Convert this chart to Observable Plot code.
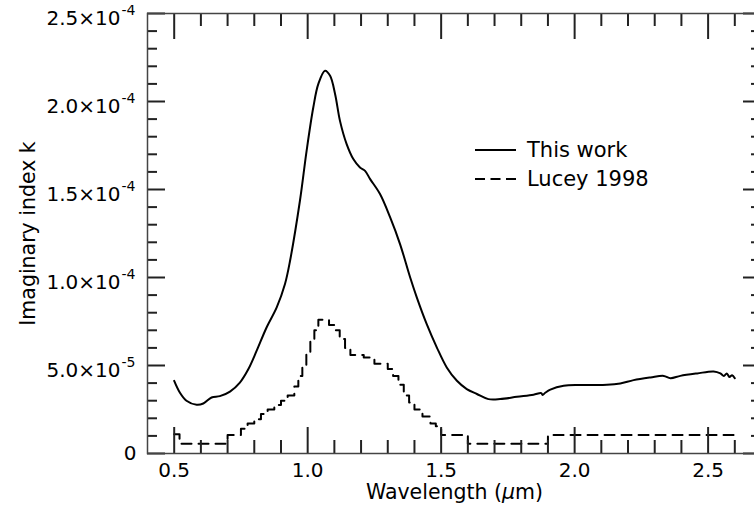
<!DOCTYPE html>
<html>
<head>
<meta charset="utf-8">
<script src="https://cdn.jsdelivr.net/npm/d3@7"></script>
<script src="https://cdn.jsdelivr.net/npm/@observablehq/plot@0.6"></script>
<style>
html, body { margin: 0; padding: 0; background: #fff; overflow: hidden; width: 754px; height: 508px; }
#wrap { position: relative; width: 754px; height: 508px; overflow: hidden; font-family: "DejaVu Sans", sans-serif; }
#chart svg { max-width: none !important; width: 770px !important; height: 508px !important; display: block; }
#legend { position: absolute; left: 475px; top: 135px; font-size: 21px; color: #000; }
#legend .row { display: flex; align-items: center; height: 29px; }
#legend svg { display: block; margin-right: 11px; }
</style>
</head>
<body>
<div id="wrap">
  <div id="chart"></div>
  <div id="legend">
    <div class="row"><svg width="41" height="4"><line x1="0" y1="2" x2="41" y2="2" stroke="#000" stroke-width="2"/></svg><span>This work</span></div>
    <div class="row"><svg width="41" height="4"><line x1="0" y1="2" x2="41" y2="2" stroke="#000" stroke-width="2" stroke-dasharray="10,5.5"/></svg><span>Lucey 1998</span></div>
  </div>
</div>
<script>
// "This work" spectrum: wavelength (µm) and imaginary index k
const workW = [0.500, 0.521, 0.546, 0.584, 0.609, 0.640, 0.671, 0.709, 0.746, 0.778, 0.809, 0.846, 0.884, 0.915, 0.934, 0.971, 0.996, 1.021, 1.040, 1.065, 1.084, 1.103, 1.121, 1.146, 1.171, 1.196, 1.215, 1.234, 1.271, 1.309, 1.346, 1.384, 1.409, 1.446, 1.484, 1.521, 1.559, 1.596, 1.634, 1.677, 1.721, 1.784, 1.846, 1.875, 1.880, 1.890, 1.909, 1.959, 2.021, 2.121, 2.171, 2.221, 2.284, 2.334, 2.359, 2.396, 2.459, 2.521, 2.546, 2.559, 2.570, 2.580, 2.590, 2.600];
const workK = [4.13e-5, 3.47e-5, 3.00e-5, 2.77e-5, 2.84e-5, 3.18e-5, 3.26e-5, 3.52e-5, 4.03e-5, 4.80e-5, 5.84e-5, 7.16e-5, 8.30e-5, 9.63e-5, 1.095e-4, 1.436e-4, 1.72e-4, 1.966e-4, 2.10e-4, 2.175e-4, 2.146e-4, 2.04e-4, 1.89e-4, 1.758e-4, 1.673e-4, 1.625e-4, 1.606e-4, 1.559e-4, 1.474e-4, 1.341e-4, 1.19e-4, 1.0e-4, 8.86e-5, 7.35e-5, 6.02e-5, 4.89e-5, 4.13e-5, 3.66e-5, 3.38e-5, 3.09e-5, 3.09e-5, 3.22e-5, 3.34e-5, 3.43e-5, 3.33e-5, 3.45e-5, 3.63e-5, 3.85e-5, 3.89e-5, 3.90e-5, 3.98e-5, 4.17e-5, 4.32e-5, 4.41e-5, 4.28e-5, 4.41e-5, 4.55e-5, 4.66e-5, 4.55e-5, 4.41e-5, 4.55e-5, 4.35e-5, 4.45e-5, 4.28e-5];

// Lucey 1998 (step values)
const lucW = [0.50, 0.52, 0.70, 0.75, 0.775, 0.80, 0.825, 0.85, 0.875, 0.90, 0.925, 0.95, 0.965, 0.98, 0.995, 1.01, 1.025, 1.04, 1.08, 1.10, 1.12, 1.14, 1.16, 1.21, 1.25, 1.30, 1.32, 1.34, 1.36, 1.38, 1.40, 1.43, 1.46, 1.48, 1.50, 1.60, 1.90, 2.60];
const lucK = [1.1e-5, 5.5e-6, 1.05e-5, 1.4e-5, 1.7e-5, 1.95e-5, 2.25e-5, 2.5e-5, 2.75e-5, 3.0e-5, 3.3e-5, 3.8e-5, 4.4e-5, 5.0e-5, 5.7e-5, 6.4e-5, 7.0e-5, 7.6e-5, 7.3e-5, 7.0e-5, 6.5e-5, 6.0e-5, 5.6e-5, 5.45e-5, 5.1e-5, 4.8e-5, 4.4e-5, 3.9e-5, 3.3e-5, 2.9e-5, 2.5e-5, 2.1e-5, 1.7e-5, 1.55e-5, 1.05e-5, 5.5e-6, 1.05e-5, 1.05e-5];

// Ticks and tick labels
const xMajor = [0.5, 1.0, 1.5, 2.0, 2.5];
const xMajorLabels = ["0.5", "1.0", "1.5", "2.0", "2.5"];
const xMinor = [0.6, 0.7, 0.8, 0.9, 1.1, 1.2, 1.3, 1.4, 1.6, 1.7, 1.8, 1.9, 2.1, 2.2, 2.3, 2.4, 2.6];
const yMajor = [0, 5e-5, 1e-4, 1.5e-4, 2e-4, 2.5e-4];
const yMantissa = ["5.0×10", "1.0×10", "1.5×10", "2.0×10", "2.5×10"];
const yExponent = ["-5", "-4", "-4", "-4", "-4"];
const yMinor = [1e-5, 2e-5, 3e-5, 4e-5, 6e-5, 7e-5, 8e-5, 9e-5, 1.1e-4, 1.2e-4, 1.3e-4, 1.4e-4, 1.6e-4, 1.7e-4, 1.8e-4, 1.9e-4, 2.1e-4, 2.2e-4, 2.3e-4, 2.4e-4];

const work = workW.map((w, i) => ({w, k: workK[i]}));
const lucey = lucW.map((w, i) => ({w, k: lucK[i]}));
const yLab = yMajor.slice(1).map((v, i) => ({v, m: yMantissa[i], e: yExponent[i]}));
const xLab = xMajor.map((v, i) => ({v, t: xMajorLabels[i]}));

const W = 770, H = 508, mL = 147, mR = 9, mT = 13, mB = 55;
const fw = W - mL - mR, fh = H - mT - mB;
const axisColor = "#222";
const tk = {stroke: axisColor, strokeWidth: 2};
const id = d => d;

const chart = Plot.plot({
  width: W, height: H,
  marginLeft: mL, marginRight: mR, marginTop: mT, marginBottom: mB,
  x: {domain: [0.4, 2.7], axis: null},
  y: {domain: [0, 2.5e-4], axis: null},
  style: {fontFamily: "DejaVu Sans", fontSize: "20px", background: "white", color: "#000"},
  marks: [
    Plot.line(lucey, {x: "w", y: "k", curve: "step-after", stroke: "#000", strokeWidth: 2, strokeDasharray: "10,7"}),
    Plot.line(work, {x: "w", y: "k", curve: "catmull-rom", stroke: "#000", strokeWidth: 2}),
    // tick labels
    Plot.text(xLab, {x: "v", frameAnchor: "bottom", lineAnchor: "middle", text: "t", dy: 17.5, fontSize: 20, fill: "#000"}),
    Plot.text([0], {y: id, frameAnchor: "left", text: () => "0", textAnchor: "end", dx: -11, fontSize: 20, fill: "#000"}),
    Plot.text(yLab, {y: "v", frameAnchor: "left", text: "m", textAnchor: "end", dx: -27, dy: 5, fontSize: 20, fill: "#000"}),
    Plot.text(yLab, {y: "v", frameAnchor: "left", text: "e", textAnchor: "end", dx: -12, dy: -3, fontSize: 14, fill: "#000"}),
    // axis titles
    Plot.text(["Wavelength (μm)"], {frameAnchor: "bottom", lineAnchor: "middle", text: id, dy: 38.5, fontSize: 20.5, fill: "#000"}),
    Plot.text(["Imaginary index k"], {frameAnchor: "left", textAnchor: "middle", lineAnchor: "middle", text: id, rotate: -90, dx: -119, fontSize: 20.5, fill: "#000"}),
    // inward ticks
    Plot.ruleX(xMajor, {x: id, insetTop: fh - 26, ...tk}),
    Plot.ruleX(xMinor, {x: id, insetTop: fh - 13, ...tk}),
    Plot.ruleX(xMajor, {x: id, insetBottom: fh - 26, ...tk}),
    Plot.ruleX(xMinor, {x: id, insetBottom: fh - 13, ...tk}),
    Plot.ruleY(yMajor, {y: id, insetRight: fw - 18, ...tk}),
    Plot.ruleY(yMinor, {y: id, insetRight: fw - 10, ...tk}),
    Plot.ruleY(yMajor, {y: id, insetLeft: fw - 18, ...tk}),
    Plot.ruleY(yMinor, {y: id, insetLeft: fw - 10, ...tk}),
    Plot.frame({stroke: "#444", strokeWidth: 1.5})
  ]
});
document.getElementById("chart").appendChild(chart);

// italic µ in the x-axis title
d3.select(chart).selectAll("text").filter(function() { return this.textContent === "Wavelength (μm)"; })
  .each(function() {
    const t = d3.select(this);
    t.text("");
    t.append("tspan").text("Wavelength (");
    t.append("tspan").attr("font-style", "italic").text("μ");
    t.append("tspan").text("m)");
  });
</script>
</body>
</html>
